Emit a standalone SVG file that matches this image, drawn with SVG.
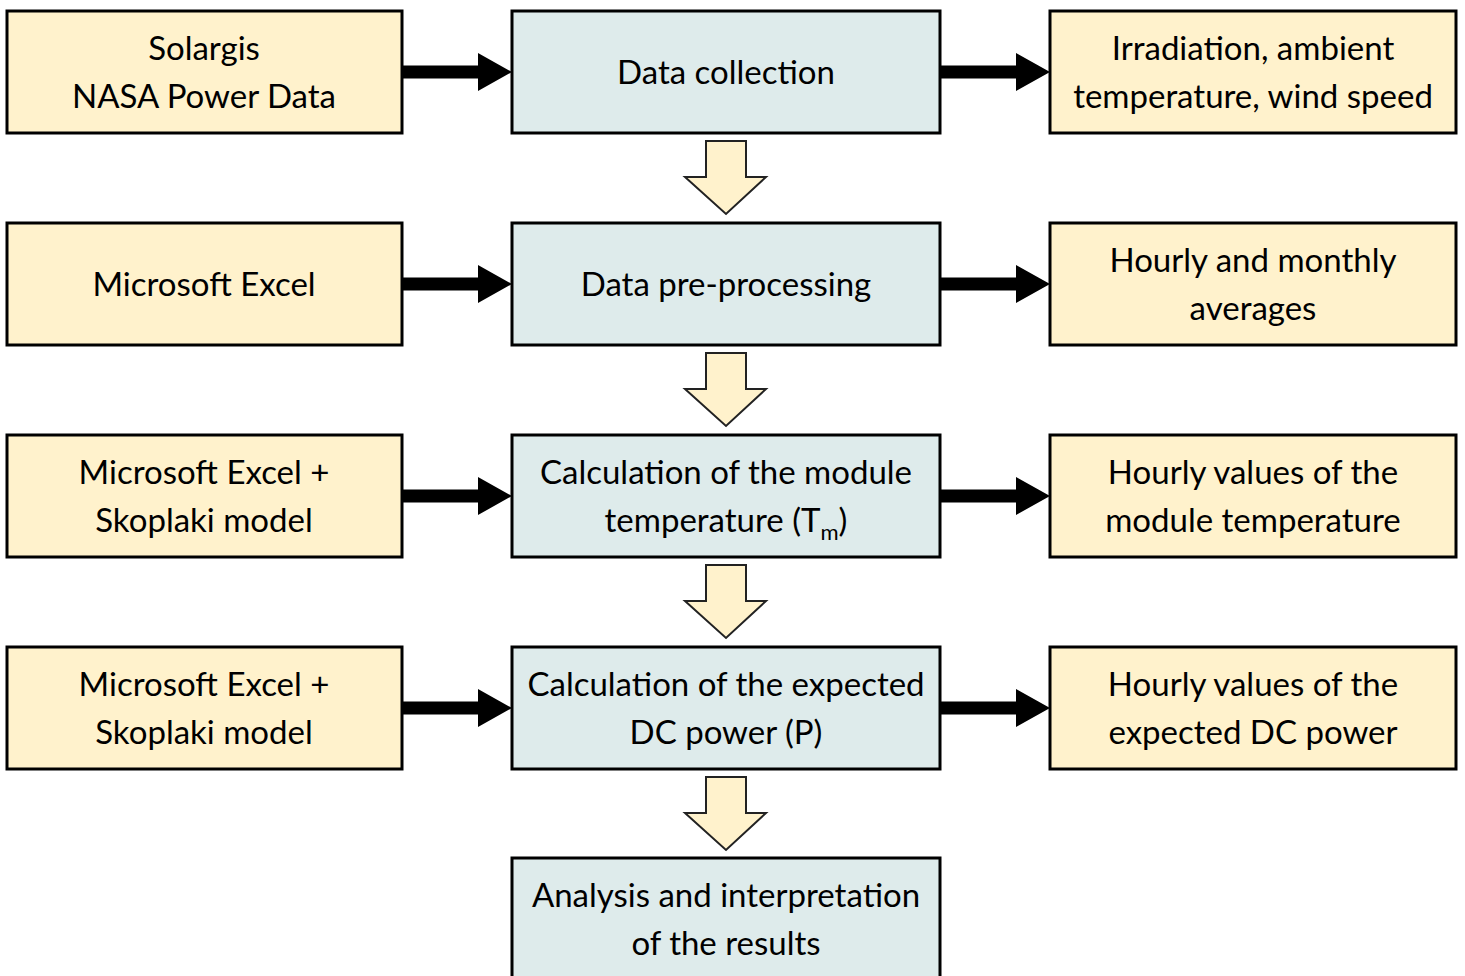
<svg xmlns="http://www.w3.org/2000/svg" width="1465" height="976" viewBox="0 0 1465 976">
<style>
.b{stroke:#000;stroke-width:3}
.y{fill:#FFF2CC}
.g{fill:#DEEBEB}
text{font-family:Lato,"Open Sans",sans-serif;font-size:33px;fill:#000;text-anchor:middle}
.da{fill:#FFF2CC;stroke:#222;stroke-width:2;stroke-linejoin:miter}
</style>
<defs>
<path id="ra" d="M0,-6.5 H76 V-19 L110,0 L76,19 V6.5 H0 Z" fill="#000"/>
<path id="dn" d="M706,0 H746 V36 H766 L726,73 L685,36 H706 Z"/>
</defs>
<rect width="1465" height="976" fill="#fff"/>
<g id="connectors">
<use href="#ra" x="402" y="72"/>
<use href="#ra" x="940" y="72"/>
<use href="#ra" x="402" y="284"/>
<use href="#ra" x="940" y="284"/>
<use href="#ra" x="402" y="496"/>
<use href="#ra" x="940" y="496"/>
<use href="#ra" x="402" y="708"/>
<use href="#ra" x="940" y="708"/>
<use href="#dn" class="da" y="141"/>
<use href="#dn" class="da" y="353"/>
<use href="#dn" class="da" y="565"/>
<use href="#dn" class="da" y="777"/>
</g>
<g id="n1"><rect class="b y" x="7" y="11" width="395" height="122"/><text x="204" y="60">Solargis</text><text x="204" y="108">NASA Power Data</text></g>
<g id="n2"><rect class="b g" x="512" y="11" width="428" height="122"/><text x="726" y="84">Data collection</text></g>
<g id="n3"><rect class="b y" x="1050" y="11" width="406" height="122"/><text x="1253" y="60">Irradiation, ambient</text><text x="1253" y="108">temperature, wind speed</text></g>
<g id="n4"><rect class="b y" x="7" y="223" width="395" height="122"/><text x="204" y="296">Microsoft Excel</text></g>
<g id="n5"><rect class="b g" x="512" y="223" width="428" height="122"/><text x="726" y="296">Data pre-processing</text></g>
<g id="n6"><rect class="b y" x="1050" y="223" width="406" height="122"/><text x="1253" y="272">Hourly and monthly</text><text x="1253" y="320">averages</text></g>
<g id="n7"><rect class="b y" x="7" y="435" width="395" height="122"/><text x="204" y="484">Microsoft Excel +</text><text x="204" y="532">Skoplaki model</text></g>
<g id="n8"><rect class="b g" x="512" y="435" width="428" height="122"/><text x="726" y="484">Calculation of the module</text><text x="726" y="532">temperature (T<tspan font-size="22px" dy="8">m</tspan><tspan dy="-8">)</tspan></text></g>
<g id="n9"><rect class="b y" x="1050" y="435" width="406" height="122"/><text x="1253" y="484">Hourly values of the</text><text x="1253" y="532">module temperature</text></g>
<g id="n10"><rect class="b y" x="7" y="647" width="395" height="122"/><text x="204" y="696">Microsoft Excel +</text><text x="204" y="744">Skoplaki model</text></g>
<g id="n11"><rect class="b g" x="512" y="647" width="428" height="122"/><text x="726" y="696">Calculation of the expected</text><text x="726" y="744">DC power (P)</text></g>
<g id="n12"><rect class="b y" x="1050" y="647" width="406" height="122"/><text x="1253" y="696">Hourly values of the</text><text x="1253" y="744">expected DC power</text></g>
<g id="n13"><rect class="b g" x="512" y="858" width="428" height="130"/><text x="726" y="907">Analysis and interpretation</text><text x="726" y="955">of the results</text></g>
</svg>
